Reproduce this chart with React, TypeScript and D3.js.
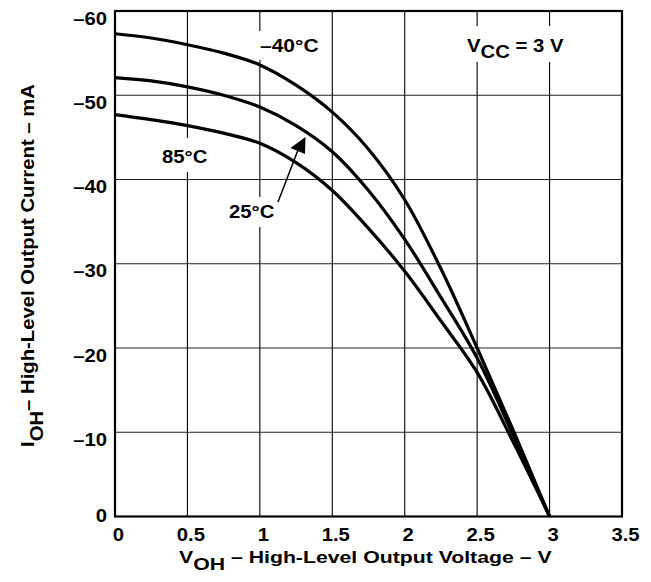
import React from "react";
import * as d3 from "d3";

const voltages = [0, 0.25, 0.5, 0.75, 1.0, 1.25, 1.5, 1.75, 2.0, 2.25, 2.5, 2.75, 3.0];
const iMinus40 = [-57.3, -56.8, -56.0, -55.0, -53.6, -51.2, -48.0, -43.6, -37.6, -29.4, -20.0, -10.2, 0];
const i25 = [-52.1, -51.7, -51.0, -50.0, -48.6, -46.4, -43.3, -38.7, -32.9, -26.0, -18.8, -9.6, 0];
const i85 = [-47.7, -47.1, -46.4, -45.5, -44.3, -42.0, -38.7, -34.2, -29.1, -23.2, -17.1, -8.8, 0];

const xTicks = [0, 0.5, 1, 1.5, 2, 2.5, 3, 3.5];
const xTickLabels = ["0", "0.5", "1", "1.5", "2", "2.5", "3", "3.5"];
const yTicks = [0, -10, -20, -30, -40, -50, -60];
const yTickLabels = ["0", "–10", "–20", "–30", "–40", "–50", "–60"];

const W = 651;
const H = 582;
const plot = { left: 115, right: 622, top: 11, bottom: 516.5 };
const FONT = "'Liberation Sans', Arial, Helvetica, sans-serif";
const SX = 1.16;

const x = d3.scaleLinear().domain([0, 3.5]).range([plot.left, plot.right]);
const y = d3.scaleLinear().domain([0, -60]).range([plot.bottom, plot.top]);

const line = d3
  .line<[number, number]>()
  .x((d) => x(d[0]))
  .y((d) => y(d[1]))
  .curve(d3.curveCatmullRom.alpha(0.5));

const series = [iMinus40, i25, i85].map((arr) =>
  voltages.map((v, i) => [v, arr[i]] as [number, number])
);

function SText({
  x: tx,
  y: ty,
  anchor = "start",
  size = 17.5,
  sx = SX,
  children,
}: {
  x: number;
  y: number;
  anchor?: "start" | "middle" | "end";
  size?: number;
  sx?: number;
  children: React.ReactNode;
}) {
  return (
    <g transform={`translate(${tx},${ty}) scale(${sx},1)`}>
      <text
        x={0}
        y={0}
        textAnchor={anchor}
        fontFamily={FONT}
        fontWeight="bold"
        fontSize={size}
        fill="#000"
      >
        {children}
      </text>
    </g>
  );
}

export default function App() {
  return (
    <svg
      width={W}
      height={H}
      viewBox={`0 0 ${W} ${H}`}
      style={{ position: "absolute", left: 0, top: 0, background: "#fff" }}
    >
      <rect x={0} y={0} width={W} height={H} fill="#fff" />
      {/* grid */}
      {xTicks.slice(1, -1).map((t) => (
        <line
          key={"gx" + t}
          x1={x(t)}
          x2={x(t)}
          y1={plot.top}
          y2={plot.bottom}
          stroke="#000"
          strokeWidth={1.1}
        />
      ))}
      {yTicks.slice(1, -1).map((t) => (
        <line
          key={"gy" + t}
          x1={plot.left}
          x2={plot.right}
          y1={y(t)}
          y2={y(t)}
          stroke="#222"
          strokeWidth={1.2}
        />
      ))}
      {/* label backgrounds */}
      <rect x={257} y={31} width={66} height={29} fill="#fff" />
      <rect x={159} y={138} width={53} height={34} fill="#fff" />
      <rect x={226} y={197} width={53} height={30} fill="#fff" />
      <rect x={462} y={26} width={108} height={36} fill="#fff" />

      {/* curves */}
      {series.map((s, i) => (
        <path
          key={"s" + i}
          d={line(s) || ""}
          fill="none"
          stroke="#000"
          strokeWidth={3.2}
        />
      ))}

      {/* frame */}
      <rect
        x={plot.left}
        y={plot.top}
        width={plot.right - plot.left}
        height={plot.bottom - plot.top}
        fill="none"
        stroke="#000"
        strokeWidth={2.2}
      />

      {/* arrow */}
      <line x1={278} y1={202} x2={298} y2={150} stroke="#000" strokeWidth={1.5} />
      <path d="M305.5,137 L290.5,148 L305,154 Z" fill="#000" />

      {/* annotations */}
      <SText x={260} y={52} sx={1.2}>–40°C</SText>
      <SText x={162} y={163}>85°C</SText>
      <SText x={229} y={218}>25°C</SText>
      <SText x={467} y={52}>
        V<tspan dy={5.5}>CC</tspan>
        <tspan dy={-5.5}> = 3 V</tspan>
      </SText>

      {/* y tick labels */}
      {yTicks.map((t, i) => (
        <SText key={"yl" + t} x={107} y={t === 0 ? 522 : y(t) + 13.5} anchor="end">
          {yTickLabels[i]}
        </SText>
      ))}
      {/* x tick labels */}
      {xTicks.map((t, i) => (
        <SText key={"xl" + t} x={x(t) + 3.5} y={541} anchor="middle">
          {xTickLabels[i]}
        </SText>
      ))}

      {/* x title */}
      <SText x={179} y={563} size={17} sx={1.25}>
        V<tspan dy={7}>OH</tspan>
        <tspan dy={-7}> – High-Level Output Voltage – V</tspan>
      </SText>

      {/* y title */}
      <g transform={`translate(34,447) rotate(-90) scale(${SX},1)`}>
        <text
          x={0}
          y={0}
          fontFamily={FONT}
          fontWeight="bold"
          fontSize={17.5}
          fill="#000"
        >
          I<tspan dy={9}>OH</tspan>
          <tspan dy={-9}>– High-Level Output Current – mA</tspan>
        </text>
      </g>
    </svg>
  );
}
